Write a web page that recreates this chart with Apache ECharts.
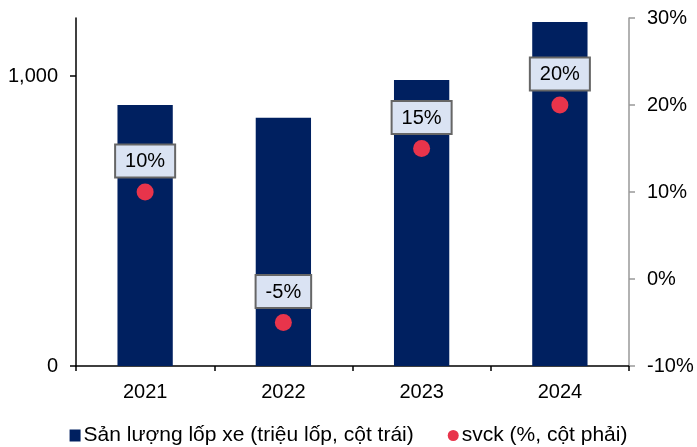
<!DOCTYPE html>
<html><head><meta charset="utf-8">
<script src="https://cdn.jsdelivr.net/npm/echarts@6/dist/echarts.min.js"></script>
<style>html,body{margin:0;padding:0;background:#fff}#c{width:697px;height:447px}</style>
</head><body><div id="c"></div>
<script>
var categories = ['2021', '2022', '2023', '2024'];
var production = [900, 856, 986, 1186];
var growth = [10, -5, 15, 20];
var leftTicks = [0, 1000];
var seriesNames = ['Sản lượng lốp xe (triệu lốp, cột trái)', 'svck (%, cột phải)'];

var font = '"Liberation Sans", Arial, sans-serif';
var chart = echarts.init(document.getElementById('c'));
chart.setOption({
  animation: false,
  grid: {left: 76, right: 68, top: 18, bottom: 81, containLabel: false},
  legend: {
    top: 420, left: 'center', itemGap: 34, itemWidth: 11, itemHeight: 12,
    textStyle: {fontFamily: font, fontSize: 21, color: '#000', padding: [0,0,0,-2]},
    data: [{name: seriesNames[0], icon: 'rect'}, {name: seriesNames[1], icon: 'circle'}]
  },
  xAxis: {
    type: 'category', data: categories,
    axisLine: {lineStyle: {color: '#000', width: 1.5}},
    axisTick: {show: true, length: 5, lineStyle: {color: '#000', width: 1.5}},
    axisLabel: {fontFamily: font, fontSize: 20, color: '#000', margin: 16}
  },
  yAxis: [{
    type: 'value', min: 0, max: 1200, interval: 1000, position: 'left',
    splitLine: {show: false},
    axisLine: {show: true, lineStyle: {color: '#000', width: 1.5}},
    axisTick: {show: true, length: 6, customValues: leftTicks, lineStyle: {color: '#000', width: 1.5}},
    axisLabel: {fontFamily: font, fontSize: 20, color: '#000', margin: 18, customValues: leftTicks,
      formatter: function (v) { return v.toLocaleString('en-US'); }}
  }, {
    type: 'value', min: -10, max: 30, interval: 10, position: 'right',
    splitLine: {show: false},
    axisLine: {show: true, lineStyle: {color: '#999', width: 1.5}},
    axisTick: {show: true, length: 6, lineStyle: {color: '#999', width: 1.5}},
    axisLabel: {fontFamily: font, fontSize: 20, color: '#000', margin: 18,
      formatter: function (v) { return v + '%'; }}
  }],
  series: [{
    name: seriesNames[0], type: 'bar', data: production, yAxisIndex: 0,
    barWidth: '40%', itemStyle: {color: '#002060'}
  }, {
    name: seriesNames[1], type: 'scatter', data: growth, yAxisIndex: 1,
    symbolSize: 17, itemStyle: {color: '#E8344B', opacity: 1}, z: 5,
    label: {
      show: true, position: 'top', distance: 7,
      formatter: function (p) { return p.value + '%'; },
      fontFamily: font, fontSize: 20, color: '#000',
      backgroundColor: '#DAE3F3', borderColor: '#666', borderWidth: 2,
      padding: [6, 9, 5, 9]
    }
  }]
});
</script></body></html>
